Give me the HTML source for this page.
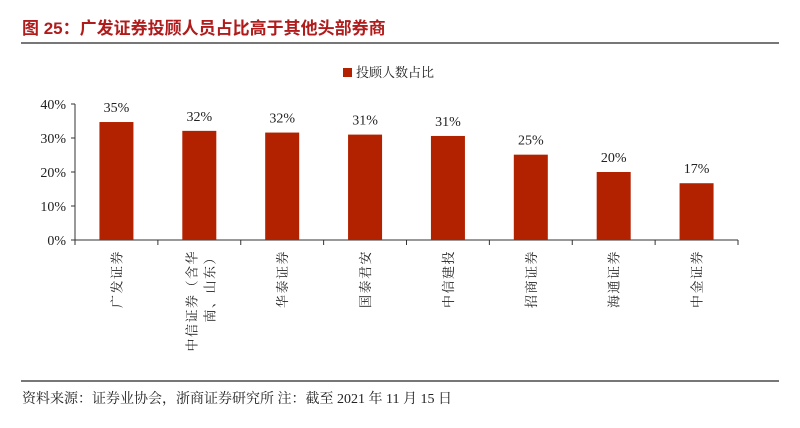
<!DOCTYPE html>
<html><head><meta charset="utf-8"><style>
body{margin:0;width:800px;height:428px;background:#fff;overflow:hidden;position:relative;font-family:"Liberation Serif","Noto Serif CJK SC",serif;}
.title{position:absolute;left:22px;top:14px;font:bold 17px "Liberation Sans","Noto Sans CJK SC",sans-serif;color:#b01c1c;}
.rule{position:absolute;left:21px;width:758px;height:2px;background:#777;}
.src{position:absolute;left:22px;top:388px;font-size:14px;color:#222;}
</style></head><body>
<div class="title">图 25：广发证券投顾人员占比高于其他头部券商</div>
<div class="rule" style="top:42px"></div>
<svg id="c" width="800" height="428" style="position:absolute;left:0;top:0"></svg>
<div class="rule" style="top:380px;height:1.5px"></div>
<div class="src">资料来源：证券业协会，浙商证券研究所 注：截至 2021 年 11 月 15 日</div>
<script>
const categories=["广发证券","中信证券（含华|南、山东）","华泰证券","国泰君安","中信建投","招商证券","海通证券","中金证券"];
const values=[34.7,32.1,31.6,31.0,30.6,25.1,20.0,16.7];
const valueLabels=["35%","32%","32%","31%","31%","25%","20%","17%"];
const yTicks=[0,10,20,30,40];
const tickLabels=["0%","10%","20%","30%","40%"];
const NS="http://www.w3.org/2000/svg";
const svg=document.getElementById('c');
const x0=75,x1=738,y0=240,y1=104,yMax=40;
const y=v=>y0-(v/yMax)*(y0-y1);
const band=(x1-x0)/categories.length;
const xc=i=>x0+band*(i+0.5);
function mk(t,a){const e=document.createElementNS(NS,t);for(const k in a)e.setAttribute(k,a[k]);svg.appendChild(e);return e;}
let e=mk('line',{x1:x0,y1:y1,x2:x0,y2:y0,stroke:'#333','stroke-width':1});


e=mk('line',{x1:x0,y1:y0,x2:x1,y2:y0,stroke:'#333','stroke-width':1});


yTicks.forEach((t,i)=>{
  mk('line',{x1:x0-4,y1:y(t),x2:x0,y2:y(t),stroke:'#333'});
  const tx=mk('text',{x:x0-9,y:y(t)+5,'text-anchor':'end','font-size':14,fill:'#222'});
  tx.textContent=tickLabels[i];
  
  
});
for(let i=0;i<=categories.length;i++)mk('line',{x1:x0+band*i,y1:y0,x2:x0+band*i,y2:y0+5,stroke:'#333'});
categories.forEach((c,i)=>{
  const bw=34;
  const r=mk('rect',{x:xc(i)-bw/2,y:y(values[i]),width:bw,height:y0-y(values[i]),fill:'#b32200'});
  
  
  const t=mk('text',{x:xc(i),y:y(values[i])-10,'text-anchor':'middle','font-size':14,fill:'#222'});
  t.textContent=valueLabels[i];
  
  
  const lines=c.split('|');
  lines.forEach((ln,j)=>{
    const cx=xc(i)+(lines.length>1?(j===0?-8:10):0)+5;
    const lt=mk('text',{x:cx,y:250,'text-anchor':'end','font-size':13,fill:'#222','letter-spacing':'1.5',transform:`rotate(-90 ${cx} 250)`});
    lt.textContent=ln;
    
    
  });
});
e=mk('rect',{x:343,y:68,width:9,height:9,fill:'#b32200'});


e=mk('text',{x:356,y:77,'font-size':13,fill:'#222'});
e.textContent='投顾人数占比';


</script>
</body></html>
